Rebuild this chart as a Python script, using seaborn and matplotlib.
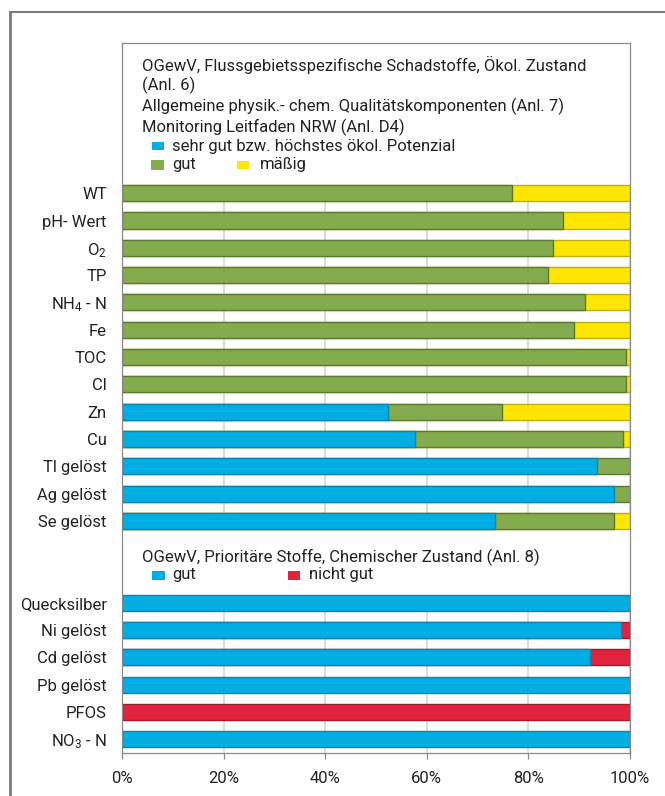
import matplotlib
matplotlib.use("Agg")
import matplotlib.pyplot as plt
from matplotlib.patches import Rectangle
from matplotlib.lines import Line2D
import seaborn as sns
import pandas as pd

# ---------------- data ----------------
cats1 = ["WT", "pH- Wert", "O$_2$", "TP", "NH$_4$ - N", "Fe", "TOC", "Cl",
         "Zn", "Cu", "Tl gelöst", "Ag gelöst", "Se gelöst"]
sehr_gut = [0, 0, 0, 0, 0, 0, 0, 0, 52.4, 57.7, 93.6, 96.8, 73.4]
gut1 = [76.8, 86.9, 84.9, 83.9, 91.1, 89.0, 99.2, 99.2, 22.4, 40.9, 6.4, 3.2, 23.5]
maessig = [23.2, 13.1, 15.1, 16.1, 8.9, 11.0, 0.8, 0.8, 25.2, 1.4, 0, 0, 3.1]

cats2 = ["Quecksilber", "Ni gelöst", "Cd gelöst", "Pb gelöst", "PFOS", "NO$_3$ - N"]
gut2 = [100, 98.3, 92.2, 100, 0, 100]
nicht_gut = [0, 1.7, 7.8, 0, 100, 0]

xticks = [0, 20, 40, 60, 80, 100]
xticklabels = ["0%", "20%", "40%", "60%", "80%", "100%"]

title1 = ["OGewV, Flussgebietsspezifische Schadstoffe, Ökol. Zustand",
          "(Anl. 6)",
          "Allgemeine physik.- chem. Qualitätskomponenten (Anl. 7)",
          "Monitoring Leitfaden NRW (Anl. D4)"]
leg1 = ["sehr gut bzw. höchstes ökol. Potenzial", "gut", "mäßig"]
title2 = "OGewV, Prioritäre Stoffe, Chemischer Zustand (Anl. 8)"
leg2 = ["gut", "nicht gut"]

# ---------------- style ----------------
sns.set_style("white")
plt.rcParams["font.family"] = ["Roboto", "DejaVu Sans"]
plt.rcParams["mathtext.default"] = "regular"
TXT = "#222222"
BLUE, BLUE_E = "#00AEE4", "#0A86B0"
GREEN, GREEN_E = "#84AB4D", "#5B7A30"
YELLOW, YELLOW_E = "#FFE600", "#BDAF10"
RED, RED_E = "#E1233F", "#A8182E"
FS = 12

W, H = 665, 796
fig = plt.figure(figsize=(W / 100, H / 100), dpi=100)
def fx(px): return px / W
def fy(py): return 1 - py / H

ax = fig.add_axes([fx(122), fy(753), fx(630) - fx(122), fy(43) - fy(753)])

blanks_top = [" " * (i + 1) for i in range(5)]
blanks_mid = [" " * (i + 6) for i in range(2)]
order = blanks_top + cats1 + blanks_mid + cats2

def layer(cats, vals, color, ecolor):
    df = pd.DataFrame({"cat": cats, "val": vals})
    df = df[df["val"] > 0]
    sns.barplot(data=df, x="val", y="cat", order=order, orient="h", color=color,
                edgecolor=ecolor, linewidth=1, width=0.59, saturation=1,
                errorbar=None, ax=ax, zorder=2)

tot1 = [a + b + c for a, b, c in zip(sehr_gut, gut1, maessig)]
cum_g = [a + b for a, b in zip(sehr_gut, gut1)]
layer([c for c, m in zip(cats1, maessig) if m > 0],
      [t for t, m in zip(tot1, maessig) if m > 0], YELLOW, YELLOW_E)
layer([c for c, g in zip(cats1, gut1) if g > 0],
      [t for t, g in zip(cum_g, gut1) if g > 0], GREEN, GREEN_E)
layer(cats1, sehr_gut, BLUE, BLUE_E)

tot2 = [a + b for a, b in zip(gut2, nicht_gut)]
layer([c for c, n in zip(cats2, nicht_gut) if n > 0],
      [t for t, n in zip(tot2, nicht_gut) if n > 0], RED, RED_E)
layer(cats2, gut2, BLUE, BLUE_E)

ax.set_xlim(0, 100)
ax.set_ylim(len(order) - 0.5, -0.5)
ax.set_xticks(xticks)
ax.set_xticklabels(xticklabels)
ax.set_xlabel("")
ax.set_ylabel("")
ax.set_axisbelow(True)
ax.xaxis.grid(True, color="#d4d4d4", lw=1.2)
ax.yaxis.grid(False)
for s in ax.spines.values():
    s.set_color("#8a8a8a")
    s.set_linewidth(0.9)
    s.set_visible(True)
ax.tick_params(axis="y", length=0, pad=11, labelsize=FS, labelcolor=TXT)
ax.tick_params(axis="x", length=4, width=0.9, color="#8a8a8a", pad=9,
               labelsize=FS, labelcolor=TXT, bottom=True)

# white legend areas covering grid
ax.add_patch(Rectangle((0, -0.5), 100, 5.2, facecolor="white", edgecolor="none", zorder=1))
ax.add_patch(Rectangle((0, 17.3), 100, 2.4, facecolor="white", edgecolor="none", zorder=1))

# outer frame
fig.add_artist(Line2D([fx(10), fx(10)], [fy(12), 0], color="#7a7a7a", lw=2))
fig.add_artist(Line2D([fx(10), 1], [fy(12), fy(12)], color="#7a7a7a", lw=1.5))

# legend 1
for i, t in enumerate(title1):
    fig.text(fx(142), fy(65 + i * 20.7), t, fontsize=FS, color=TXT, va="center", ha="left")

def patch(x, y, w, h, c):
    fig.add_artist(Rectangle((fx(x), fy(y + h / 2)), w / W, h / H,
                             facecolor=c, edgecolor="none", transform=fig.transFigure))

patch(152, 146, 12, 8, BLUE)
fig.text(fx(172), fy(146), leg1[0], fontsize=FS, color=TXT, va="center")
patch(151, 165, 13, 9, GREEN)
fig.text(fx(172), fy(165), leg1[1], fontsize=FS, color=TXT, va="center")
patch(237, 165, 12, 8, YELLOW)
fig.text(fx(260), fy(165), leg1[2], fontsize=FS, color=TXT, va="center")

# legend 2
fig.text(fx(142), fy(557), title2, fontsize=FS, color=TXT, va="center")
patch(152, 575, 13, 9, BLUE)
fig.text(fx(172), fy(575), leg2[0], fontsize=FS, color=TXT, va="center")
patch(288, 575, 12, 9, RED)
fig.text(fx(309), fy(575), leg2[1], fontsize=FS, color=TXT, va="center")

fig.savefig("out.png", dpi=100, facecolor="white")
